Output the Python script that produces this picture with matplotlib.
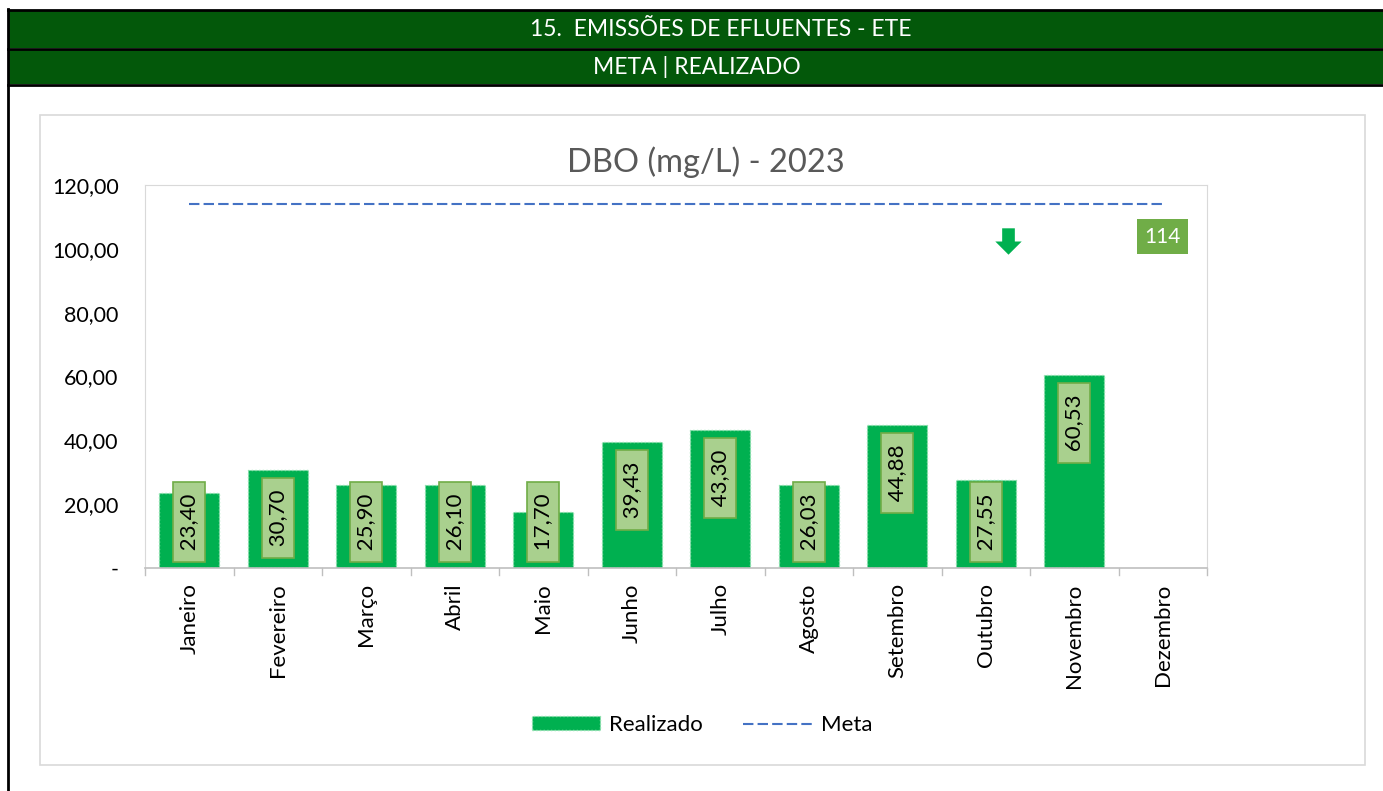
import matplotlib
matplotlib.use("Agg")
import matplotlib.pyplot as plt
from matplotlib.patches import Rectangle, Patch
from matplotlib.lines import Line2D
from matplotlib.path import Path

plt.rcParams['font.family'] = ['Lato', 'DejaVu Sans']

months = ["Janeiro", "Fevereiro", "Março", "Abril", "Maio", "Junho", "Julho",
          "Agosto", "Setembro", "Outubro", "Novembro", "Dezembro"]
realizado = [23.40, 30.70, 25.90, 26.10, 17.70, 39.43, 43.30, 26.03, 44.88, 27.55, 60.53, None]
meta = [114] * 12
yticks = [0, 20, 40, 60, 80, 100, 120]
ytick_labels = ["-", "20,00", "40,00", "60,00", "80,00", "100,00", "120,00"]

W, H = 1383, 791
fig = plt.figure(figsize=(W / 100, H / 100), dpi=100)

def fx(x):
    return x / W

def fy(y):
    return 1 - y / H

# header bands
dark_green = "#03580A"
fig.patches.append(Rectangle((fx(8), fy(48)), fx(W - 8), (38) / H, transform=fig.transFigure,
                             facecolor=dark_green, edgecolor="none", zorder=-5))
fig.patches.append(Rectangle((fx(8), fy(84)), fx(W - 8), (34) / H, transform=fig.transFigure,
                             facecolor=dark_green, edgecolor="none", zorder=-5))
for yy in [10, 49, 85]:
    fig.lines.append(Line2D([fx(8), 1], [fy(yy), fy(yy)], transform=fig.transFigure,
                            color="black", lw=2, zorder=-4))
fig.lines.append(Line2D([fx(8), fx(8)], [fy(9), 0], transform=fig.transFigure, color="black",
                        lw=2, zorder=-4))
fig.text(fx(721), fy(30), "15.  EMISSÕES DE EFLUENTES - ETE", color="white", fontsize=16.5,
         ha="center", va="center", zorder=5)
fig.text(fx(697), fy(67), "META | REALIZADO", color="white", fontsize=16.5,
         ha="center", va="center", zorder=5)

# chart area border
fig.patches.append(Rectangle((fx(40), fy(765)), (1365 - 40) / W, (765 - 115) / H,
                             transform=fig.transFigure, facecolor="white",
                             edgecolor="#D9D9D9", lw=1.2, zorder=-5))

# chart title
fig.text(fx(706), fy(162), "DBO (mg/L) - 2023", fontsize=23.5, color="#595959",
         ha="center", va="center", zorder=5)

ax = fig.add_axes([fx(145), fy(568), (1207 - 145) / W, (568 - 185) / H])
ax.set_zorder(1)
x = list(range(len(months)))
xs = [i for i, v in zip(x, realizado) if v is not None]
vs = [v for v in realizado if v is not None]

meta_dash = (0, (5, 2))
ax.bar(xs, vs, width=0.68, color="#00B050", edgecolor="#8FE3AE", linestyle=":",
       linewidth=1, zorder=2, label="Realizado")
ax.plot(x, meta, color="#4472C4", linestyle=meta_dash, lw=1.5, zorder=3, label="Meta")

ax.set_xlim(-0.5, 11.5)
ax.set_ylim(0, 120)
ax.set_yticks(yticks)
ax.set_yticklabels(ytick_labels, fontsize=15.5)
ax.tick_params(axis="y", length=0, pad=19)
ax.set_xticks(x)
ax.set_xticklabels(months, rotation=90, fontsize=16)
ax.tick_params(axis="x", length=0, pad=11)
for i in range(13):
    ax.plot([i - 0.5, i - 0.5], [0, -2.2], color="#BFBFBF", lw=1, clip_on=False, zorder=1)
for s in ["left", "right", "top"]:
    ax.spines[s].set_color("#D9D9D9")
ax.spines["bottom"].set_color("#BFBFBF")
ax.spines["bottom"].set_linewidth(1.2)

px_per_unit = (568 - 185) / 120.0
for xi, v in zip(xs, vs):
    label = " " + f"{v:.2f}".replace(".", ",") + " "
    bar_px = v * px_per_unit
    bbox = dict(boxstyle="square,pad=0.27", facecolor="#A9D08E", edgecolor="#70AD47", lw=1.2)
    if bar_px - 8 - 76 >= 6:
        ax.annotate(label, (xi, v), xytext=(0, -14), textcoords="offset pixels",
                    rotation=90, ha="center", va="top", fontsize=16, bbox=bbox, zorder=4)
    else:
        ax.annotate(label, (xi, 0), xytext=(0, 12), textcoords="offset pixels",
                    rotation=90, ha="center", va="bottom", fontsize=16, bbox=bbox, zorder=4)

# green down-arrow shape
arrow = Path([(-0.24, 0.5), (0.24, 0.5), (0.24, 0.0), (0.5, 0.0), (0.0, -0.5),
              (-0.5, 0.0), (-0.24, 0.0), (-0.24, 0.5)], closed=True)
ax.plot([9.25], [102.5], marker=arrow, markersize=19, color="#00B050", linestyle="none",
        markeredgewidth=0, zorder=5, clip_on=False)

# meta label
ax.text(11, 103.8, "114", color="white", fontsize=15, ha="center", va="center",
        bbox=dict(boxstyle="square,pad=0.35", facecolor="#70AD47", edgecolor="none"), zorder=5)

handles = [Patch(facecolor="#00B050", edgecolor="#8FE3AE", linestyle=":", label="Realizado"),
           Line2D([0], [0], color="#4472C4", linestyle=meta_dash, lw=1.5, label="Meta")]
fig.legend(handles=handles, loc="center", bbox_to_anchor=(fx(702), fy(725)), ncol=2,
           frameon=False, fontsize=16, handlelength=3.1, handleheight=0.6, columnspacing=1.8,
           handletextpad=0.4)

fig.savefig("out.png", dpi=100)
